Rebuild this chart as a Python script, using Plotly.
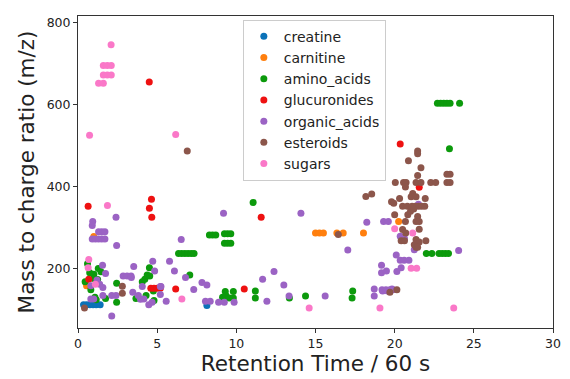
import plotly.graph_objects as go

# Retention time (min) and m/z for each metabolite class
creatine_rt = [0.35, 0.55, 0.75, 0.95, 1.15, 1.4, 8.14]
creatine_mz = [112, 112, 112, 112, 112, 112, 110]

carnitine_rt = [1.0, 0.54, 15.0, 15.25, 15.5, 16.35, 16.75, 18.03, 20.25]
carnitine_mz = [278, 158, 287, 287, 287, 287, 287, 287, 315]

amino_acids_rt = [0.6, 0.45, 0.81, 0.74, 1.0, 1.28, 1.45, 1.24, 0.99, 1.07, 1.15, 1.74,
                  2.44, 2.44, 3.66, 4.3, 4.06, 4.22, 4.37, 4.53, 4.51, 4.76, 4.8,
                  6.35, 6.55, 6.75, 6.95, 7.15, 7.33, 7.06,
                  8.3, 8.5, 8.7, 9.25, 9.45, 9.65, 9.25, 9.45, 9.65,
                  9.3, 9.81, 9.13, 9.34, 9.55, 9.81,
                  11.06, 11.2, 11.2, 13.35, 14.37, 17.35, 17.31,
                  22.0, 22.35, 22.8, 23.0, 23.2, 23.4,
                  22.7, 22.9, 23.1, 23.3, 23.5, 24.1, 23.46]
amino_acids_mz = [212, 168, 148, 190, 186, 200, 192, 173, 176, 130, 124, 127,
                  164, 118, 127, 134, 168, 174, 184, 182, 202, 145, 122,
                  237, 237, 237, 237, 237, 237, 184,
                  282, 282, 282, 285, 285, 285, 262, 262, 262,
                  144, 144, 130, 134, 128, 128,
                  361, 145, 128, 128, 133, 145, 128,
                  237, 237, 237, 237, 237, 237,
                  603, 603, 603, 603, 603, 603, 492]

glucuronides_rt = [0.64, 0.68, 4.5, 4.64, 4.51, 4.66, 4.6, 4.8, 5.0, 5.2, 6.17,
                   10.5, 11.57, 20.35, 21.55]
glucuronides_mz = [352, 174, 655, 369, 347, 325, 152, 152, 152, 152, 150,
                   150, 325, 504, 398]

organic_acids_rt = [0.93, 0.9, 1.3, 1.5, 1.7, 0.9, 1.1, 1.3, 1.5, 1.7, 2.44, 2.4,
                    1.55, 1.74, 1.2, 0.81, 1.37, 1.57, 1.57, 2.13, 2.4, 0.81, 0.99, 2.13,
                    2.85, 3.1, 3.35, 3.52, 3.46, 3.37, 4.06, 3.81, 4.16, 3.95, 4.47, 4.68,
                    4.72, 4.84, 5.2, 5.24, 5.2, 5.57, 5.78, 6.09, 6.52, 6.79, 7.31, 7.83,
                    8.14, 8.05, 8.35, 8.88, 9.24, 9.86, 9.19, 11.66, 12.38, 13.0, 11.93,
                    13.33, 14.08, 15.61, 17.04, 18.24, 19.3, 19.6, 18.71, 18.71, 19.24,
                    19.55, 19.83, 19.17, 19.17, 19.48, 20.14, 20.41, 20.1, 20.35, 20.6,
                    20.9, 20.35, 20.62, 21.24, 21.5, 24.04, 19.2, 19.45, 19.7, 19.9]
organic_acids_mz = [315, 305, 290, 290, 290, 272, 272, 272, 272, 272, 256, 325,
                    208, 188, 172, 158, 162, 154, 134, 134, 134, 126, 126, 84,
                    182, 182, 182, 205, 142, 178, 156, 134, 126, 125, 112, 118,
                    218, 194, 156, 156, 137, 120, 218, 194, 271, 178, 149, 166,
                    160, 120, 120, 118, 118, 118, 335, 174, 193, 160, 120,
                    133, 335, 133, 245, 313, 315, 315, 150, 133, 145,
                    145, 150, 208, 190, 194, 193, 202, 233, 220, 220,
                    220, 279, 273, 246, 357, 244, 148, 148, 148, 148]

esteroids_rt = [0.41, 2.8, 2.8, 6.9, 16.44, 18.18, 18.55, 19.7, 20.14,
                21.45, 21.45, 20.87, 21.66, 21.45, 23.3, 23.5, 23.3, 23.5,
                20.04, 20.56, 20.72, 21.35, 21.66, 22.28, 22.59, 20.68, 21.14,
                21.04, 21.35, 20.31, 21.93, 19.8, 19.94,
                20.5, 20.8, 21.1, 21.3, 21.5, 21.7, 21.9,
                20.0, 20.83, 21.45, 21.0, 21.2, 20.68, 21.35, 21.55,
                20.5, 20.7, 21.55, 20.41, 20.62, 21.35, 21.55, 21.97,
                21.24, 21.35, 21.45]
esteroids_mz = [104, 157, 140, 487, 283, 376, 382, 142, 148,
                487, 480, 463, 446, 427, 430, 430, 410, 410,
                410, 410, 410, 410, 410, 410, 410, 399, 383,
                375, 375, 371, 371, 363, 359,
                352, 352, 352, 352, 352, 352, 352,
                331, 331, 327, 340, 345, 315, 315, 315,
                295, 287, 296, 268, 268, 271, 265, 268,
                258, 252, 252]

sugars_rt = [2.09, 1.6, 1.85, 2.1, 1.6, 1.85, 2.1, 1.3, 1.6, 0.73, 6.17, 1.86,
             0.68, 0.64, 1.1, 6.56, 14.6, 19.07, 20.0, 21.14, 21.04, 21.39, 23.73]
sugars_mz = [746, 695, 695, 695, 672, 672, 672, 652, 652, 525, 527, 354,
             222, 202, 162, 126, 104, 104, 297, 287, 201, 201, 104]

series = [
    ("creatine", creatine_rt, creatine_mz, "#0b72b8"),
    ("carnitine", carnitine_rt, carnitine_mz, "#ff7f0e"),
    ("amino_acids", amino_acids_rt, amino_acids_mz, "#0c9a0c"),
    ("glucuronides", glucuronides_rt, glucuronides_mz, "#ee1111"),
    ("organic_acids", organic_acids_rt, organic_acids_mz, "#9b63c4"),
    ("esteroids", esteroids_rt, esteroids_mz, "#8c564b"),
    ("sugars", sugars_rt, sugars_mz, "#fa78c8"),
]

fig = go.Figure()
for name, rt, mz, color in series:
    fig.add_trace(go.Scatter(
        x=rt, y=mz, mode="markers", name=name, legendgroup=name,
        marker=dict(size=7, color=color, line=dict(width=0)),
    ))

font = "DejaVu Sans, Arial, sans-serif"
axis_common = dict(
    showline=True, linecolor="#333333", linewidth=1, mirror=True,
    ticks="outside", ticklen=4, tickcolor="#333333", tickwidth=1,
    showgrid=False, zeroline=False,
    tickfont=dict(family=font, size=12.5, color="#222222"),
)

fig.update_layout(
    width=570, height=379,
    margin=dict(l=78, r=9, t=16, b=48),
    paper_bgcolor="white", plot_bgcolor="white",
    font=dict(family=font, color="#222222"),
    xaxis=dict(range=[0, 30], dtick=5,
               title=dict(text="Retention Time / 60 s", font=dict(size=21.5), standoff=4),
               **axis_common),
    yaxis=dict(range=[55, 816], tickvals=[200, 400, 600, 800],
               title=dict(text="Mass to charge ratio (m/z)", font=dict(size=21.5), standoff=6),
               **axis_common),
    legend=dict(
        x=0.347, y=0.988, xanchor="left", yanchor="top",
        bordercolor="#cccccc", borderwidth=1, bgcolor="rgba(255,255,255,0.85)",
        font=dict(family=font, size=14, color="#222222"),
        tracegroupgap=0, itemsizing="trace",
    ),
)

fig.write_html("out.html")
